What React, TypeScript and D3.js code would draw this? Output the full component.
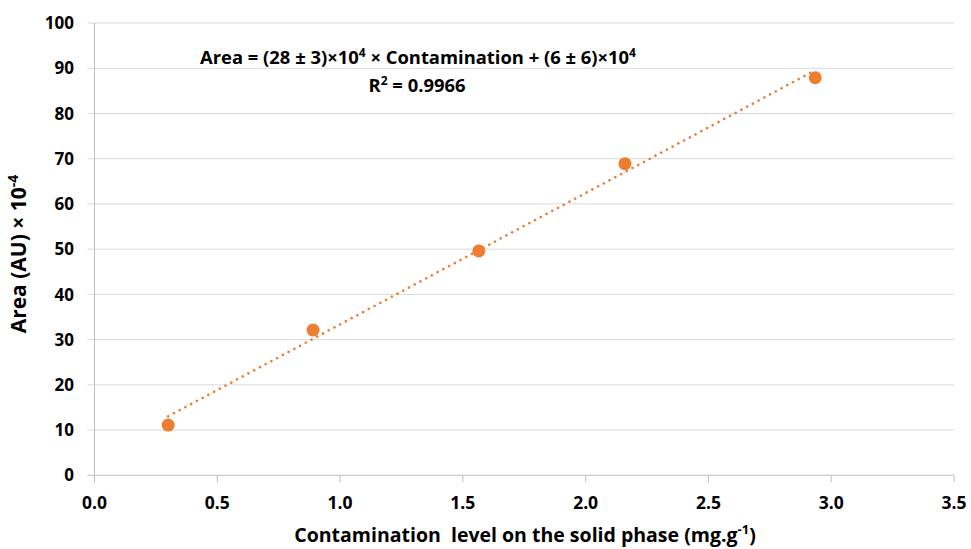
import React from "react";
import * as d3 from "d3";

// Calibration data: contamination level (mg/g) vs. peak area (AU × 10^-4)
const contamination = [0.3, 0.89, 1.565, 2.16, 2.935];
const area = [11.1, 32.1, 49.6, 68.9, 87.9];
const xTicks = [0, 0.5, 1.0, 1.5, 2.0, 2.5, 3.0, 3.5];
const yTicks = [0, 10, 20, 30, 40, 50, 60, 70, 80, 90, 100];

const W = 971;
const H = 549;
const FONT = "'Open Sans', 'DejaVu Sans', sans-serif";
const ORANGE = "#ED7D31";

export default function App() {
  const x = d3.scaleLinear().domain([0, 3.5]).range([94.5, 954]);
  const y = d3.scaleLinear().domain([0, 100]).range([475.3, 23]);

  // least-squares linear trend
  const mx = d3.mean(contamination)!;
  const my = d3.mean(area)!;
  let sxy = 0;
  let sxx = 0;
  contamination.forEach((c, i) => {
    sxy += (c - mx) * (area[i] - my);
    sxx += (c - mx) * (c - mx);
  });
  const slope = sxy / sxx;
  const intercept = my - slope * mx;
  const x0 = d3.min(contamination)!;
  const x1 = d3.max(contamination)!;
  const trend = d3.line<number>()
    .x((d) => x(d))
    .y((d) => y(slope * d + intercept))([x0, x1]);

  return (
    <svg width={W} height={H} style={{ position: "absolute", left: 0, top: 0, background: "#fff" }}>
      {/* horizontal gridlines */}
      {yTicks.map((t) => (
        <line key={"g" + t} x1={x(0) - 7} x2={x(3.5)} y1={y(t)} y2={y(t)}
          stroke={t === 0 ? "#bfbfbf" : "#d9d9d9"} strokeWidth={1} />
      ))}
      {/* y axis line */}
      <line x1={x(0)} x2={x(0)} y1={y(100)} y2={y(0) + 7} stroke="#bfbfbf" strokeWidth={1} />
      {/* x ticks */}
      {xTicks.map((t) => (
        <line key={"xt" + t} x1={x(t)} x2={x(t)} y1={y(0)} y2={y(0) + 7} stroke="#bfbfbf" strokeWidth={1} />
      ))}
      {/* y tick labels */}
      {yTicks.map((t) => (
        <text key={"yl" + t} x={74} y={y(t)} dy="0.36em" textAnchor="end"
          fontFamily={FONT} fontWeight={700} fontSize={17} fill="#000">
          {t}
        </text>
      ))}
      {/* x tick labels */}
      {xTicks.map((t) => (
        <text key={"xl" + t} x={x(t)} y={509} textAnchor="middle"
          fontFamily={FONT} fontWeight={700} fontSize={17.5} fill="#000">
          {t.toFixed(1)}
        </text>
      ))}
      {/* trendline */}
      <path d={trend ?? ""} fill="none" stroke={ORANGE} strokeWidth={2.6}
        strokeDasharray="0.1 6.4" strokeLinecap="round" />
      {/* data points */}
      {contamination.map((c, i) => (
        <circle key={"p" + i} cx={x(c)} cy={y(area[i])} r={6.5} fill={ORANGE} />
      ))}
      {/* equation */}
      <text x={418} y={64} textAnchor="middle" fontFamily={FONT} fontWeight={700} fontSize={18.4} fill="#000">
        <tspan>Area = (28 ± 3)×10</tspan>
        <tspan dy={-7} fontSize={12}>4</tspan>
        <tspan dy={7}> × Contamination + (6 ± 6)×10</tspan>
        <tspan dy={-7} fontSize={12}>4</tspan>
      </text>
      <text x={417} y={92} textAnchor="middle" fontFamily={FONT} fontWeight={700} fontSize={18.4} fill="#000">
        <tspan>R</tspan>
        <tspan dy={-7} fontSize={12}>2</tspan>
        <tspan dy={7}> = 0.9966</tspan>
      </text>
      {/* axis titles */}
      <text x={525} y={542} textAnchor="middle" fontFamily={FONT} fontWeight={700} fontSize={19.5} fill="#000"
        style={{ whiteSpace: "pre" }}>
        <tspan>Contamination  level on the solid phase (mg.g</tspan>
        <tspan dy={-8} fontSize={13}>-1</tspan>
        <tspan dy={8}>)</tspan>
      </text>
      <text transform="translate(26,254) rotate(-90)" textAnchor="middle" fontFamily={FONT} fontWeight={700} fontSize={21} fill="#000">
        <tspan>Area (AU) × 10</tspan>
        <tspan dy={-8} fontSize={14}>-4</tspan>
      </text>
    </svg>
  );
}
